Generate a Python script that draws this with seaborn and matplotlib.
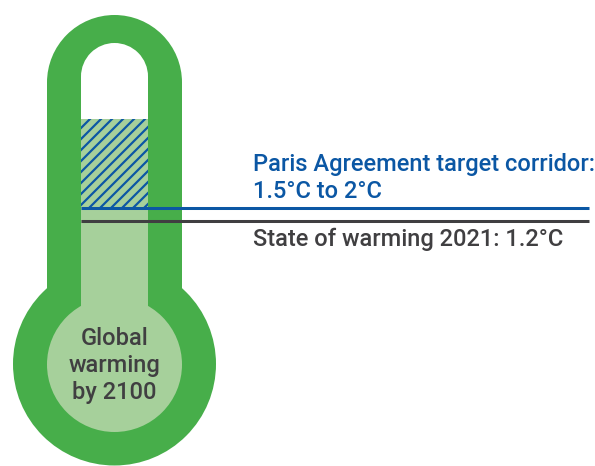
import matplotlib
matplotlib.use("Agg")
import matplotlib.pyplot as plt
from matplotlib.patches import Circle, Rectangle
import pandas as pd
import seaborn as sns

# Chart content
series_names = ["Paris Agreement target corridor", "State of warming 2021"]
series_levels = [207.5, 221.0]
corridor_top_level = 119.0
paris_label = "Paris Agreement target corridor:\n1.5°C to 2°C"
state_label = "State of warming 2021: 1.2°C"
bulb_label = "Global\nwarming\nby 2100"

GREEN = "#47AE4A"
LIGHT = "#A6D09B"
BLUE = "#0B57A4"
DARK = "#403F41"

sns.set_style("white")
plt.rcParams["font.family"] = ["Roboto", "DejaVu Sans"]
plt.rcParams["hatch.linewidth"] = 1.2
plt.rcParams["hatch.color"] = BLUE

W, H, DPI = 595, 466, 132
fig = plt.figure(figsize=(W / DPI, H / DPI), dpi=DPI)
ax = fig.add_axes([0, 0, 1, 1])
ax.set_xlim(0, W)
ax.set_ylim(H, 0)
ax.axis("off")

cx = 114.5
# outer tube and bulb
ax.add_patch(Circle((cx, 82.5), 67.5, fc=GREEN, ec="none"))
ax.add_patch(Rectangle((47, 82.5), 135, 260, fc=GREEN, ec="none"))
ax.add_patch(Circle((cx, 364), 101.5, fc=GREEN, ec="none"))
# inner channel
ax.add_patch(Circle((cx, 76.5), 33.5, fc="white", ec="none"))
ax.add_patch(Rectangle((81, 76.5), 67, corridor_top_level - 76.5, fc="white", ec="none"))
ax.add_patch(Rectangle((81, corridor_top_level), 67, 210, fc=LIGHT, ec="none"))
ax.add_patch(Circle((cx, 364.5), 67.5, fc=LIGHT, ec="none"))
# hatched corridor
ax.add_patch(Rectangle((81, corridor_top_level), 67, series_levels[0] - corridor_top_level,
                       fc="none", ec=BLUE, hatch="////", lw=0))

# level lines
for name, level, color in zip(series_names, series_levels, [BLUE, DARK]):
    df = pd.DataFrame({"x": [81, 589], "y": [level, level]})
    sns.lineplot(data=df, x="x", y="y", ax=ax, color=color, lw=1.65,
                 solid_capstyle="butt", legend=False, estimator=None, sort=False)
ax.set_xlim(0, W)
ax.set_ylim(H, 0)
ax.axis("off")

fs = 12.9
ax.text(253, 178, paris_label, color=BLUE, fontsize=fs, fontweight="medium",
        ha="left", va="center", linespacing=1.2)
ax.text(253, 239, state_label, color=DARK, fontsize=fs, fontweight="medium",
        ha="left", va="center")
ax.text(cx, 365.5, bulb_label, color=DARK, fontsize=fs, fontweight="medium",
        ha="center", va="center", linespacing=1.2)

fig.savefig("out.png", dpi=DPI)
